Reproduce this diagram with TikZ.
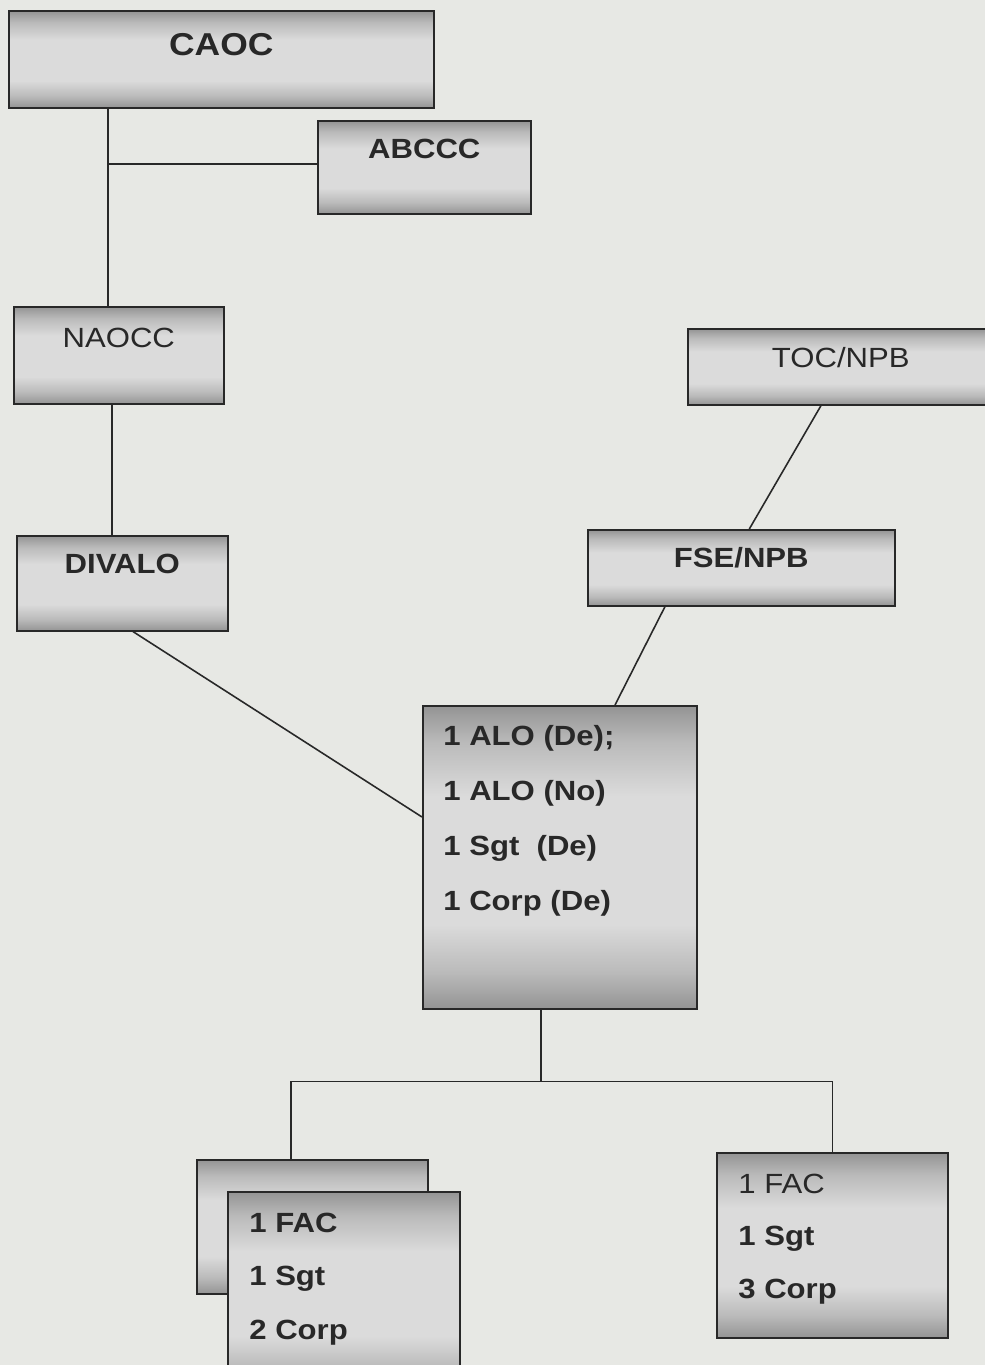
\documentclass[tikz,border=0pt]{standalone}
\usepackage{fontspec}
\setmainfont{Liberation Sans}[FakeStretch=1.12]
\usepackage{tikz}
\usetikzlibrary{positioning}
\definecolor{paper}{RGB}{231,232,228}
\definecolor{ink}{RGB}{40,40,40}
\colorlet{shdark}{black!42}
\colorlet{shmid}{black!27}
\colorlet{shlight}{black!14}
\pgfdeclareverticalshading{boxshade}{100bp}{color(0bp)=(shdark); color(25bp)=(shdark);
  color(31bp)=(shmid); color(39bp)=(shlight); color(60bp)=(shlight);
  color(69bp)=(shmid); color(75bp)=(shdark); color(100bp)=(shdark)}

\begin{document}
\begin{tikzpicture}[
    box/.style={rectangle, draw=ink, line width=0.9pt, shade, shading=boxshade,
        inner sep=0pt, anchor=north west, text=ink},
    title/.style={font=\fontsize{18}{22}\selectfont\bfseries},
    label/.style={font=\fontsize{15.8}{19}\selectfont},
    labelbf/.style={font=\fontsize{15.8}{19}\selectfont\bfseries},
    item/.style={anchor=base west, inner sep=0pt, text=ink,
        font=\fontsize{15.8}{19}\selectfont\bfseries},
    link/.style={draw=ink, line width=0.9pt}
]
\fill[paper] (0,0) rectangle (19.70,-27.30);
\useasboundingbox (0,0) rectangle (19.70,-27.30);

% command chain
\node[box, title, minimum width=8.50cm, text height=0.90cm, text depth=1.04cm] (caoc) at (0.16,-0.20) {CAOC};
\node[box, labelbf, minimum width=4.26cm, text height=0.76cm, text depth=1.10cm] (abccc) at (6.34,-2.40) {ABCCC};
\node[box, label, minimum width=4.20cm, text height=0.82cm, text depth=1.12cm] (naocc) at (0.26,-6.12) {NAOCC};
\node[box, labelbf, minimum width=4.22cm, text height=0.76cm, text depth=1.14cm] (divalo) at (0.32,-10.70) {DIVALO};
\node[box, label, minimum width=6.12cm, text height=0.78cm, text depth=0.74cm] (tocnpb) at (13.74,-6.56) {TOC/NPB};
\node[box, labelbf, minimum width=6.14cm, text height=0.76cm, text depth=0.76cm] (fsenpb) at (11.74,-10.58) {FSE/NPB};

% liaison team
\node[box, minimum width=5.48cm, minimum height=6.06cm] (alo) at (8.44,-14.10) {};
\foreach \t [count=\i, evaluate=\i as \y using -0.8-(\i-1)*1.1] in {{1 ALO (De);},{1 ALO (No)},{1 Sgt\ \ (De)},{1 Corp (De)}}
    \node[item] (alo-\i) at ([xshift=0.42cm, yshift=\y cm]alo.north west) {\t};

% control parties
\node[box, minimum width=4.62cm, minimum height=2.68cm] (facback) at (3.92,-23.18) {};
\node[box, minimum width=4.64cm, minimum height=4.00cm] (facone) at (4.54,-23.82) {};
\foreach \t [count=\i, evaluate=\i as \y using -0.82-(\i-1)*1.07] in {1 FAC, 1 Sgt, 2 Corp}
    \node[item] (facone-\i) at ([xshift=0.44cm, yshift=\y cm]facone.north west) {\t};
\node[box, minimum width=4.62cm, minimum height=3.70cm] (factwo) at (14.32,-23.04) {};
\foreach \t [count=\i, evaluate=\i as \y using -0.82-(\i-1)*1.05] in {\mdseries 1 FAC, 1 Sgt, 3 Corp}
    \node[item] (factwo-\i) at ([xshift=0.44cm, yshift=\y cm]factwo.north west) {\t};

% connectors
\draw[link] ([xshift=2cm]caoc.south west) coordinate (cv) -- (cv |- naocc.north);
\draw[link] ([yshift=0.07cm]abccc.west) -- ([yshift=0.07cm]abccc.west -| cv);
\draw[link] ([xshift=-0.14cm]naocc.south) -- ([xshift=-0.14cm]naocc.south |- divalo.north);
\draw[link] ([xshift=2.34cm]divalo.south west) -- ([yshift=-2.24cm]alo.north west);
\draw[link] ([xshift=2.68cm]tocnpb.south west) -- ([xshift=0.16cm]fsenpb.north);
\draw[link] ([xshift=1.56cm]fsenpb.south west) -- ([xshift=3.86cm]alo.north west);
\draw[link] ([xshift=-0.38cm]alo.south) -- ++(0,-1.44) coordinate (split);
\draw[link] ([xshift=-0.43cm]facback.north) |- (split) -| (factwo.north);
\end{tikzpicture}
\end{document}
